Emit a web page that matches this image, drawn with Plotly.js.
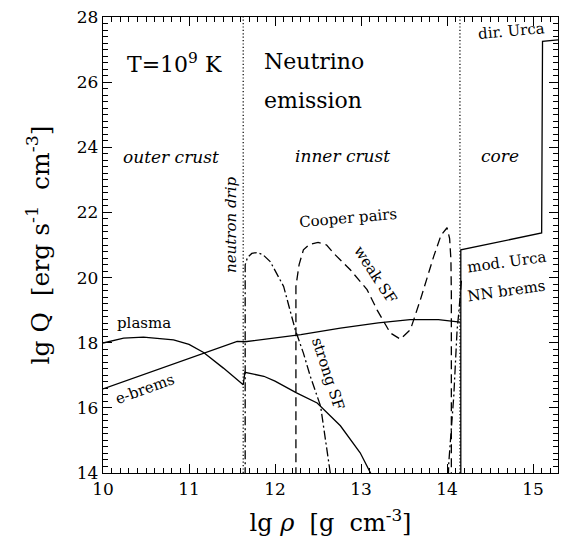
<!DOCTYPE html>
<html>
<head>
<meta charset="utf-8">
<script src="https://cdn.plot.ly/plotly-3.0.1.min.js"></script>
<style>html,body{margin:0;padding:0;background:#fff;}#chart{width:562px;height:557px;}</style>
</head>
<body>
<div id="chart"></div>
<script>
// ---- data (lg rho, lg Q) ----
const eBremsX = [10.0, 11.56, 11.65, 12.0, 12.3, 12.76, 13.2, 13.57, 13.9, 14.15];
const eBremsY = [16.58, 18.04, 18.03, 18.14, 18.25, 18.45, 18.61, 18.71, 18.71, 18.63];

const plasmaX = [10.0, 10.24, 10.47, 10.82, 11.0, 11.17, 11.4, 11.63, 11.65, 11.87, 12.0, 12.25, 12.49, 12.76, 12.99, 13.12];
const plasmaY = [17.99, 18.14, 18.17, 18.09, 17.95, 17.70, 17.22, 16.71, 17.09, 16.97, 16.82, 16.46, 16.15, 15.45, 14.62, 13.95];

const strongSF1X = [11.653, 11.653, 11.68, 11.73, 11.79, 11.86, 11.944, 12.1, 12.235, 12.33, 12.41, 12.53, 12.62, 12.645];
const strongSF1Y = [13.9, 20.39, 20.62, 20.74, 20.77, 20.7, 20.49, 19.73, 18.40, 17.68, 16.97, 16.05, 14.41, 13.95];
const strongSF2X = [14.015, 14.02, 14.078, 14.117, 14.136, 14.168];
const strongSF2Y = [13.9, 14.31, 16.35, 18.40, 18.9, 19.93];

const weakSFX = [12.243, 12.243, 12.28, 12.33, 12.4, 12.5, 12.6, 12.68, 12.875, 13.07, 13.186, 13.34, 13.457, 13.574, 13.69, 13.845, 13.93, 14.0, 14.03, 14.045, 14.05, 14.05];
const weakSFY = [13.9, 19.73, 20.4, 20.85, 21.02, 21.08, 21.0, 20.75, 20.24, 19.63, 19.01, 18.30, 18.11, 18.40, 19.32, 20.65, 21.3, 21.53, 21.2, 20.55, 19.5, 13.9];

const coreX = [14.16, 14.16, 15.1, 15.11, 15.29];
const coreY = [13.9, 20.85, 21.37, 27.25, 27.3];

const boundaryX = [11.63, 14.15];   // neutron drip, crust-core interface
const yRange = [14, 28];
const xRange = [10, 15.29];

const xTick0 = 10, xDtick = 1, xMinorDtick = 0.1;
const yTick0 = 14, yDtick = 2, yMinorDtick = 0.2;

// ---- labels ----
const labelText = ['T=10<sup>9</sup> K', 'Neutrino', 'emission', '<i>outer crust</i>', '<i>inner crust</i>', '<i>core</i>',
  'dir. Urca', 'mod. Urca', 'NN brems', 'Cooper pairs', 'weak SF', 'strong SF', '<i>neutron drip</i>', 'plasma', 'e-brems'];
const labelX = [10.25, 11.85, 11.85, 10.79, 12.79, 14.62, 14.75, 14.70, 14.69, 12.85, 13.17, 12.62, 11.49, 10.48, 10.49];
const labelY = [26.6, 26.62, 25.45, 23.71, 23.73, 23.73, 27.57, 20.48, 19.6, 21.83, 20.09, 17.05, 21.62, 18.61, 16.59];

const FONT = 'DejaVu Serif, Liberation Serif, serif';
const lw = 1.3;
function line(x, y, dash) {
  return {x: x, y: y, type: 'scatter', mode: 'lines', hoverinfo: 'skip', showlegend: false,
    line: {color: '#000', width: lw, dash: dash || 'solid'}};
}
const traces = [
  line(eBremsX, eBremsY),
  line(plasmaX, plasmaY),
  line(coreX, coreY),
  line(weakSFX, weakSFY, '9px,5px'),
  line(strongSF1X, strongSF1Y, '9px,3px,2px,3px'),
  line(strongSF2X, strongSF2Y, '9px,3px,2px,3px')
];
boundaryX.forEach(b => {
  const t = line([b, b], yRange, '1.2px,2.2px');
  t.line.width = 1.2;
  traces.push(t);
});

const labelSize = [22, 22, 22, 17, 17, 17, 15, 15, 15, 15, 15, 15, 15, 15, 15];
const labelAngle = [0, 0, 0, 0, 0, 0, -5, -8, -8, -5, 57, 72, -90, 0, -20];
const labelAnchor = ['left', 'left', 'left', 'center', 'center', 'center', 'center', 'center', 'center', 'center', 'center', 'center', 'center', 'center', 'center'];
const annotations = labelText.map((t, i) => ({
  text: t, x: labelX[i], y: labelY[i], xref: 'x', yref: 'y', showarrow: false,
  xanchor: labelAnchor[i], yanchor: 'middle', textangle: labelAngle[i],
  font: {family: FONT, size: labelSize[i], color: '#000'}
}));

const axisCommon = {
  showgrid: false, zeroline: false, showline: true, mirror: 'allticks',
  linecolor: 'black', linewidth: 1.3, ticks: 'inside', ticklen: 9, tickwidth: 1.2, tickcolor: 'black',
  tickfont: {family: FONT, size: 17, color: 'black'}
};
const layout = {
  width: 562, height: 557,
  margin: {l: 103, r: 4, t: 17, b: 84},
  paper_bgcolor: 'white', plot_bgcolor: 'white',
  xaxis: Object.assign({}, axisCommon, {
    range: xRange, tickmode: 'linear', tick0: xTick0, dtick: xDtick,
    minor: {dtick: xMinorDtick, ticks: 'inside', ticklen: 5, tickcolor: 'black', tickwidth: 1.1},
    title: {text: 'lg <i>ρ</i>&nbsp;&nbsp;[g&nbsp;&nbsp;cm<sup>-3</sup>]', font: {family: FONT, size: 24, color: 'black'}, standoff: 16}
  }),
  yaxis: Object.assign({}, axisCommon, {
    range: yRange, tickmode: 'linear', tick0: yTick0, dtick: yDtick,
    minor: {dtick: yMinorDtick, ticks: 'inside', ticklen: 5, tickcolor: 'black', tickwidth: 1.1},
    title: {text: 'lg Q&nbsp;&nbsp;[erg&nbsp;s<sup>-1</sup>&nbsp;&nbsp;cm<sup>-3</sup>]', font: {family: FONT, size: 25, color: 'black'}, standoff: 20}
  }),
  annotations: annotations
};
Plotly.newPlot('chart', traces, layout, {displayModeBar: false});
</script>
</body>
</html>
